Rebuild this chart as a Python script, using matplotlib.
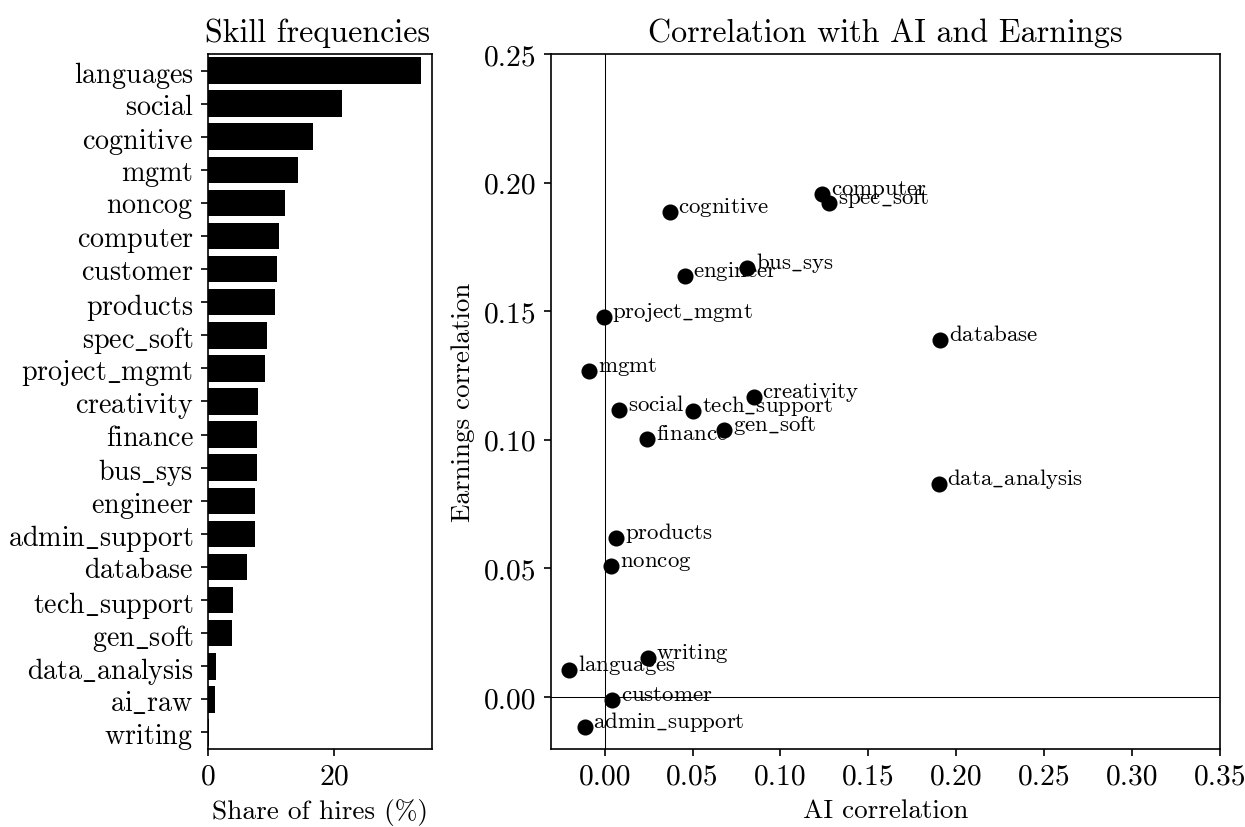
import matplotlib
matplotlib.use("Agg")
import matplotlib.pyplot as plt
import matplotlib.ticker as mticker
import numpy as np

plt.rcParams["font.family"] = ["cmr10"]
plt.rcParams["mathtext.fontset"] = "cm"
plt.rcParams["axes.formatter.use_mathtext"] = True
plt.rcParams["font.size"] = 14.2
plt.rcParams["axes.unicode_minus"] = True

# Share of hires by skill (%)
skills = ["languages", "social", "cognitive", "mgmt", "noncog", "computer",
          "customer", "products", "spec_soft", "project_mgmt", "creativity",
          "finance", "bus_sys", "engineer", "admin_support", "database",
          "tech_support", "gen_soft", "data_analysis", "ai_raw", "writing"]
share = [33.8, 21.3, 16.7, 14.3, 12.2, 11.3, 10.9, 10.6, 9.3, 9.0, 7.9,
         7.8, 7.7, 7.5, 7.4, 6.1, 3.9, 3.8, 1.2, 1.1, 0.2]

# Correlations of each skill with AI and with earnings
corr_skills = ["computer", "spec_soft", "cognitive", "bus_sys", "engineer",
               "project_mgmt", "database", "mgmt", "creativity", "social",
               "tech_support", "gen_soft", "finance", "data_analysis",
               "products", "noncog", "writing", "languages", "customer",
               "admin_support"]
ai_corr = [0.1235, 0.1278, 0.0369, 0.0809, 0.0455, -0.0006, 0.1906, -0.0087,
           0.0847, 0.0084, 0.0502, 0.0678, 0.0241, 0.1899, 0.0066, 0.0038,
           0.0244, -0.0202, 0.0042, -0.0114]
earn_corr = [0.1955, 0.1919, 0.1886, 0.1667, 0.1637, 0.1477, 0.1389, 0.1267,
             0.1165, 0.1117, 0.1113, 0.1039, 0.1005, 0.0830, 0.0618, 0.0509,
             0.0153, 0.0105, -0.0012, -0.0117]


def tex_name(s):
    """Typeset a skill name in roman, with escaped underscores."""
    return r"$\mathrm{" + s.replace("_", r"\_") + "}$"


fig = plt.figure(figsize=(8.3, 5.52), dpi=150)
ax1 = fig.add_axes([0.1671, 0.0942, 0.1799, 0.8394])
ax2 = fig.add_axes([0.4426, 0.0942, 0.5373, 0.8394])

# Bar chart of skill frequencies
ypos = np.arange(len(skills))
ax1.barh(ypos, share, height=0.8, color="black")
ax1.set_yticks(ypos)
ax1.set_yticklabels([tex_name(s) for s in skills], fontsize=13.5)
ax1.set_ylim(len(skills) - 0.5, -0.5)
ax1.set_xlim(0, max(share) * 1.05)
ax1.set_xticks([0, 20])
ax1.set_xlabel("Share of hires (%)", fontsize=13.1)
ax1.set_title("Skill frequencies", fontsize=15.4, x=0.49)

# Scatter of AI vs earnings correlations
ax2.axhline(0, color="black", lw=0.5, zorder=1)
ax2.axvline(0, color="black", lw=0.5, zorder=1)
ax2.scatter(ai_corr, earn_corr, s=45, color="black", zorder=3)
for name, xv, yv in zip(corr_skills, ai_corr, earn_corr):
    ax2.text(xv + 0.005, yv, tex_name(name), va="baseline", ha="left",
             fontsize=11, zorder=4)
ax2.set_xlim(-0.0305, 0.35)
ax2.set_ylim(-0.0202, 0.25)
ax2.set_xticks(np.arange(0, 0.351, 0.05))
ax2.set_yticks(np.arange(0, 0.251, 0.05))
ax2.xaxis.set_major_formatter(mticker.FormatStrFormatter("%.2f"))
ax2.yaxis.set_major_formatter(mticker.FormatStrFormatter("%.2f"))
ax2.set_xlabel("AI correlation", fontsize=13)
ax2.set_ylabel("Earnings correlation", fontsize=13)
ax2.set_title("Correlation with AI and Earnings", fontsize=15.4)

fig.savefig("out.png", dpi=150)
